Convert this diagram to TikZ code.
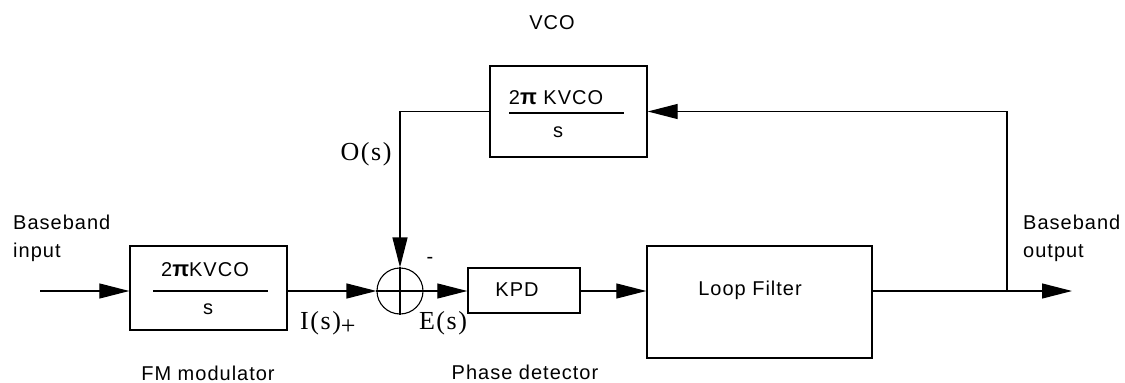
\documentclass[tikz,border=0pt]{standalone}
\usepackage{fontspec}
\setmainfont{Liberation Sans}
\newfontfamily\sansf[LetterSpace=5]{Liberation Sans}
\newfontfamily\serf[LetterSpace=6]{Liberation Serif}
\usetikzlibrary{arrows.meta}
\begin{document}
\begin{tikzpicture}[x=1pt,y=-1pt,
  wire/.style={line width=1.2pt},
  arr/.style={wire,-{Triangle[length=30pt,width=15pt]}},
  blockbox/.style={draw,line width=1.4pt,rectangle,inner sep=0pt},
  lbl/.style={font=\sansf\fontsize{20}{28}\selectfont,inner sep=0pt},
  slbl/.style={font=\serf\fontsize{26}{28}\selectfont,inner sep=0pt},
  fracline/.style={line width=2pt}]
\useasboundingbox (0,0) rectangle (1125,383);
% blocks
\node[blockbox,minimum width=157pt,minimum height=84pt] (fm) at (208.5,288) {};
\node[blockbox,minimum width=157pt,minimum height=91pt] (vco) at (568.5,111.5) {};
\node[blockbox,minimum width=112pt,minimum height=45pt] (kpd) at (524,290.5) {};
\node[blockbox,minimum width=225pt,minimum height=112pt] (lf) at (759.5,302) {};
\node[draw,circle,line width=1.1pt,minimum size=46pt,inner sep=0pt] (sum) at (400,291) {};
\draw[wire] (sum.north) -- (sum.south);
% fraction texts
\node[lbl] (fmnum) at (205,270) {2{\fontsize{22}{28}\selectfont\bfseries π}KVCO};
\node[lbl] (fmden) at (208,309) {s};
\coordinate (fmla) at (153,291); \coordinate (fmlb) at (268,291);
\draw[fracline] (fmla) -- (fmlb);
\node[lbl] (vconum) at (556,98) {2{\fontsize{22}{28}\selectfont\bfseries π} KVCO};
\node[lbl] (vcoden) at (558,132) {s};
\coordinate (vcola) at (509,113); \coordinate (vcolb) at (624,113);
\draw[fracline] (vcola) -- (vcolb);
\node[lbl] (kpdt) at (517,290) {KPD};
\node[lbl] (lft) at (750,290) {Loop Filter};
% labels
\node[lbl,anchor=west,align=left] (bin) at (13,238) {Baseband\\input};
\node[lbl,anchor=west,align=left] (bout) at (1023,238) {Baseband\\output};
\node[lbl] (vcol) at (552,23) {VCO};
\node[lbl] (fml) at (208,373) {FM modulator};
\node[lbl] (pdl) at (525,372) {Phase detector};
\node[lbl] (minus) at (430,260) {-};
\node[slbl,anchor=west] (isl) at (300,323) {I(s)\raisebox{-5pt}{+}};
\node[slbl] (esl) at (443,323) {E(s)};
\node[slbl] (osl) at (366,154) {O(s)};
% connectors
\coordinate (in) at (40,291);
\coordinate (jn) at (1007,291);
\coordinate (out) at (1072,291);
\draw[arr] (in) -- (in -| fm.west);
\draw[arr] (fm.east |- sum.west) -- (sum.west);
\draw[wire] (sum.west) -- (sum.east);
\draw[arr] (sum.east) -- (kpd.west |- sum.east);
\draw[arr] (kpd.east |- sum.east) -- (lf.west |- sum.east);
\draw[wire] (lf.east |- sum.east) -- (jn);
\draw[arr] (jn) -- (out);
\draw[arr] (jn) |- (vco.east);
\draw[arr] (vco.west) -| (sum.north);
\end{tikzpicture}
\end{document}
